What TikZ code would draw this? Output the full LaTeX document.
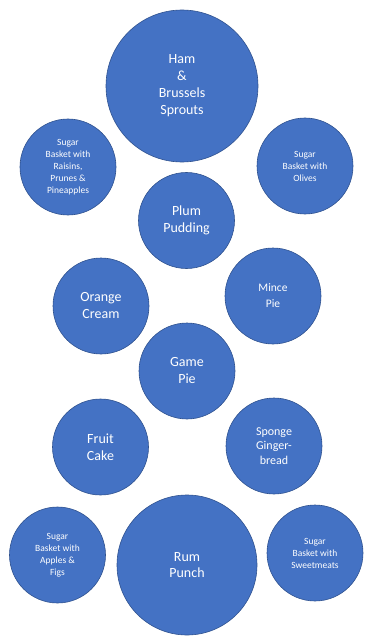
\documentclass[tikz,border=0pt]{standalone}
\usepackage{fontspec}
\setmainfont{Carlito}
\usetikzlibrary{positioning}
\definecolor{dishblue}{HTML}{4472C4}
\definecolor{dishedge}{HTML}{2F528F}

\begin{document}
\begin{tikzpicture}[x=1bp, y=-1bp,
    dish/.style={circle, draw=dishedge, line width=0.6bp, fill=dishblue, text=white, align=center, inner sep=0pt, minimum size=96bp, font=\fontsize{14bp}{17bp}\selectfont},
    basket/.style={dish, font=\fontsize{9.5bp}{12bp}\selectfont}]
      \useasboundingbox (0,0) rectangle (380,639);
      % top row
      \node[dish, minimum size=152bp] (ham) at (182,86) {Ham\\\&\\Brussels\\Sprouts};
      \node[basket] (raisins) at (68,167) {Sugar\\Basket with\\Raisins,\\Prunes \&\\Pineapples};
      \node[basket] (olives) at (305,166) {Sugar\\Basket with\\Olives};
      % middle
      \node[dish] (plum) at (186.5,220.5) {Plum\\Pudding};
      \node[dish] (orange) at (101,306) {Orange\\Cream};
      \node[dish, font=\fontsize{11.5bp}{16bp}\selectfont] (mince) at (273,296) {Mince\\Pie};
      \node[dish] (game) at (187,371) {Game\\Pie};
      \node[dish] (fruit) at (100.5,447) {Fruit\\Cake};
      \node[dish, font=\fontsize{12bp}{14.5bp}\selectfont] (sponge) at (274,446) {Sponge\\Ginger-\\bread};
      % bottom row
      \node[basket] (apples) at (57.5,555) {Sugar\\Basket with\\Apples \&\\Figs};
      \node[dish, minimum size=140bp, font=\fontsize{14bp}{15.5bp}\selectfont] (rum) at (187,565) {Rum\\Punch};
      \node[basket] (sweets) at (315,553) {Sugar\\Basket with\\Sweetmeats};
    \end{tikzpicture}
\end{document}
